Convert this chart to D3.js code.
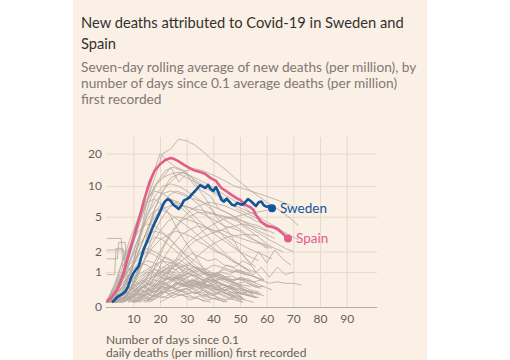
<!DOCTYPE html>
<html><head><meta charset="utf-8">
<script src="https://cdn.jsdelivr.net/npm/d3@7"></script>
<style>
body{margin:0;background:#fff}
svg{display:block}
text{font-family:Lato,"Open Sans",sans-serif}
</style>
</head><body>
<svg id="c" width="510" height="360"></svg>
<script>
// ---- data ----
const titleLines = ["New deaths attributed to Covid-19 in Sweden and", "Spain"];
const subtitleLines = ["Seven-day rolling average of new deaths (per million), by",
  "number of days since 0.1 average deaths (per million)", "first recorded"];
const xLabelLines = ["Number of days since 0.1", "daily deaths (per million) first recorded"];
const xTicks = [10, 20, 30, 40, 50, 60, 70, 80, 90];
const yTicks = [0, 1, 2, 5, 10, 20];

// [day, deaths per million]
const sweden = [[2,0.1],[3,0.15],[4,0.22],[5,0.26],[6,0.3],[7,0.36],[8,0.5],[9,0.75],[10,0.95],[11,1.1],
  [12,1.25],[13,1.7],[14,2.2],[15,2.6],[16,3.1],[17,3.7],[18,4.3],[19,4.9],[20,5.6],[21,6.5],[22,7.2],
  [23,7.5],[24,7.2],[25,6.6],[26,6.3],[27,6.0],[28,6.5],[29,7.3],[30,7.5],[31,7.8],[32,8.4],[33,8.9],
  [34,9.5],[35,10.2],[36,9.9],[37,9.6],[38,10.3],[39,9.4],[40,9.0],[41,9.8],[42,8.6],[43,7.4],[44,7.1],
  [45,7.6],[46,7.1],[47,6.6],[48,6.5],[49,6.9],[50,6.7],[51,6.6],[52,7.0],[53,7.5],[54,7.2],[55,6.8],
  [56,6.4],[57,7.0],[58,7.1],[59,6.5],[60,6.3],[61,6.4],[62,6.1]];
const spain = [[0,0.11],[2,0.22],[4,0.42],[6,0.85],[8,1.7],[10,2.9],[12,4.6],[14,7.3],[16,10.8],[18,14],
  [20,16],[22,17.5],[24,18.2],[25,18.0],[27,17.0],[29,15.8],[31,14.8],[33,14.0],[35,13.6],[37,13.0],
  [39,11.9],[41,11.2],[43,9.6],[45,8.9],[47,8.2],[49,7.6],[50,7.4],[52,6.6],[54,6.2],[55,5.9],[56,5.2],
  [58,4.4],[60,4.0],[62,3.9],[64,3.7],[66,3.3],[68,2.9]];

// other countries: [first day, values every 3 days]
const others = [
  [0,[0.1,0.3,0.8,2,4,7,12,20,22,27,26,24,21,18,16,14,12,10.5,9,8,7,6.3,5.5,4.8,4.0]],
  [0,[0.15,0.5,1.2,2.5,4.5,7,10,12,13,13.5,13,12,11,10,9,8,7.2,6.5,5.5,5,4.4,4,3.5,3.1,2.8]],
  [0,[0.1,0.2,0.5,1,2,3.5,6,9,11,13,14,14.5,14,13,12,11,10,9.5,9,8.5,8,7.5,7,6.5]],
  [0,[0.1,0.3,0.8,2,4,7,10,12,15,11,13,10,9,8,6,5.5,5,4,3.5,3,2.5,2.2,2]],
  [0,[0.1,0.4,1,2.5,5,7.5,9,8.5,7.5,6.5,5.5,4.5,3.5,2.8,2.3,1.8,1.5,1.2,1]],
  [5,[0.1,0.3,0.8,2,4,6,8,9,8.5,7.5,6.5,5,4,3,2.5,2,1.5,1.2]],
  [0,[0.1,0.2,0.5,1,2,3.5,5,6,6.5,6.5,6.3,6,5.8,5.5,5.2,5,4.8,4.5,4.2,4,3.6,3.3]],
  [0,[0.1,0.5,1.5,3,5,7,7.5,6.5,5,3.5,2.5,1.8,1.2,0.8,0.5,0.3,0.2,0.15]],
  [3,[0.1,0.3,1,2.5,5,8,10,10.5,10,9,8,7,6,5,4.5,4,3.5,3,2.6,2.2]],
  [8,[0.5,2,5,12,20,17,15,14,12,9,7,5,4,3,2,1.5,1,0.7]],
  [4,[0.1,0.5,1.5,3.5,7,11,14,15,14,12.5,11,10,9,8,7,6,5.5,5,4.5,4,3.6,3.2]],
  [6,[0.1,0.4,1.2,3,6,9,12,13,12,11,10,9,8,7.2,6.5,6,5.5,5]],
  [5,[0.1,0.3,0.7,1.5,3,4.5,6,7,6.5,6,5.5,5,4.5,4,3.8,3.5,3,2.7,2.5,2.2]],
  [10,[0.1,0.3,0.7,1.5,2.5,3.5,4.5,5,5.5,5.5,5.3,5,4.8,4.5,4,3.6,3.2,2.8,2.5,2.2,2]],
  [15,[0.1,0.2,0.4,0.6,0.9,1.2,1.6,2,2.4,2.7,3,3.1,3.2,3.2,3.1]],
  [12,[0.1,0.3,0.5,0.8,1.2,1.8,2.5,3,3.5,4,4.5,4.8,5,5.2,5.5,5.6,5.8]],
  [5,[0.1,0.3,0.8,1.5,2.5,3.5,4.5,5,4.8,4.5,4.2,3.8,3.5,3.2,2.8,2.5,2.2,2.0,1.8,1.6]],
  [8,[0.1,0.3,0.6,1.2,2,3,4,5,6,6.5,7,6.8,6.5,6,5.5,5,4.5,4.2,4,3.7]],
  [0,[0.1,0.3,0.7,1.5,3,5,7,8.5,9,8.5,8,7.5,7,6.5,6,5.5,5,4.5,4,3.5,3.2,2.9]],
  [10,[0.1,0.2,0.5,1.0,1.8,2.5,3.2,3.6,4,3.8,3.5,3.6,3.3,3.0,2.8,2.6,2.5,2.2]],
  [3,[0.1,0.4,1.0,2,3.5,5.5,7,7.5,7,6,5,4.2,3.5,3,2.6,2.2,1.9,1.7,1.5]],
  [15,[0.1,0.3,0.6,1.1,1.6,2.2,2.7,3.0,3.3,3.5,3.8,4.0,4.2,4.0,3.8,3.5]],
  [2,[0.1,0.5,1.3,2.5,4,5.5,6,5.5,4.8,4.2,3.6,3.0,2.5,2.1,1.8,1.5,1.3,1.1,1.0]],
  [0,[0.1,0.15,0.3,0.5,0.6,0.9,1.1,1.0,1.3,1.2,0.9,1.0,0.8,0.7,0.6,0.5,0.45,0.3,0.25,0.2]],
  [0,[0.1,0.2,0.2,0.4,0.35,0.6,0.5,0.8,0.7,0.9,0.6,0.7,0.5,0.55,0.4,0.3,0.35,0.2]],
  [1,[0.1,0.1,0.25,0.2,0.4,0.3,0.5,0.6,0.45,0.7,0.5,0.4,0.6,0.35,0.3,0.2,0.25,0.15,0.1]],
  [0,[0.12,0.3,0.6,0.9,1.2,1.5,1.4,1.1,0.9,0.7,0.5,0.4,0.3,0.2,0.15,0.1]],
  [2,[0.1,0.2,0.35,0.5,0.7,0.8,1.0,1.2,1.1,1.3,1.0,1.15,0.9,0.95,0.8,0.7,0.75,0.6,0.5,0.5,0.4]],
  [0,[0.1,0.1,0.15,0.2,0.2,0.3,0.25,0.35,0.3,0.4,0.3,0.35,0.25,0.3,0.2,0.15,0.2,0.1]],
  [0,[0.1,0.4,0.8,1.2,1.6,2.0,1.8,1.5,1.2,1.0,0.7,0.5,0.4,0.3,0.2,0.12]],
  [3,[0.1,0.2,0.3,0.5,0.8,0.7,1.0,0.9,1.2,0.8,0.9,0.7,0.8,0.6,0.5,0.6,0.4,0.35,0.3]],
  [0,[0.1,0.15,0.1,0.2,0.3,0.2,0.4,0.3,0.5,0.35,0.45,0.3,0.4,0.25,0.3,0.2,0.15,0.1]],
  [0,[0.1,0.3,0.5,0.7,0.6,0.9,0.8,1.0,0.7,0.8,0.6,0.5,0.55,0.4,0.3]],
  [4,[0.1,0.2,0.3,0.45,0.6,0.55,0.8,0.7,0.9,1.1,0.9,1.0,0.8,0.9,0.7,0.6,0.65,0.5,0.45]],
  [0,[0.1,0.2,0.4,0.3,0.5,0.45,0.3,0.5,0.35,0.25,0.3,0.2,0.15,0.1]],
  [0,[0.1,0.5,1.0,1.4,1.8,2.2,2.0,1.7,1.5,1.2,1.0,0.8,0.6,0.5,0.4,0.3,0.25]],
  [2,[0.1,0.15,0.2,0.3,0.25,0.4,0.5,0.45,0.6,0.55,0.7,0.6,0.65,0.5,0.55,0.45,0.4,0.35,0.3,0.25]],
  [0,[0.1,0.2,0.15,0.25,0.4,0.35,0.5,0.6,0.5,0.4,0.45,0.3,0.35,0.2]],
  [5,[0.1,0.15,0.25,0.35,0.5,0.65,0.6,0.8,0.75,0.9,0.85,1.0,0.95,1.1,1.0,1.05,0.9,0.8,0.7]],
  [0,[0.1,0.3,0.6,1.0,1.4,1.3,1.1,0.9,1.0,0.8,0.7,0.6,0.5,0.4,0.4,0.3,0.25,0.2]],
  [1,[0.1,0.1,0.2,0.15,0.3,0.2,0.25,0.35,0.2,0.3,0.15,0.2,0.1]],
  [0,[0.1,0.25,0.45,0.7,0.9,1.1,1.3,1.5,1.4,1.6,1.3,1.2,1.0,0.9,0.8,0.7,0.6,0.5,0.4,0.35]],
  [3,[0.1,0.3,0.5,0.8,1.0,0.9,1.2,1.4,1.3,1.1,1.2,1.0,0.9,0.95,0.8,0.7,0.8,0.6,0.5]],
  [0,[0.1,0.12,0.2,0.3,0.45,0.5,0.7,0.65,0.8,0.75,0.6,0.7,0.55,0.5,0.45,0.4,0.3,0.35,0.25,0.2]],
  [0,[0.1,0.2,0.35,0.3,0.5,0.7,0.6,0.9,0.8,0.6,0.5,0.6,0.4,0.3]],
  [6,[0.1,0.2,0.3,0.4,0.35,0.5,0.45,0.6,0.55,0.5,0.6,0.45,0.4,0.5,0.35,0.3,0.25]],
  [0,[0.1,0.3,0.7,1.2,1.8,2.5,3.0,2.8,2.3,1.9,1.5,1.2,1.0,0.8,0.6,0.5,0.4]],
  [0,[0.1,0.4,0.9,1.6,2.4,3.2,3.5,3.3,2.8,2.2,1.8,1.5,1.2,1.0,0.8,0.7,0.6,0.5]],
  [2,[0.1,0.2,0.5,0.9,1.5,2.2,2.8,3.2,3.5,3.3,3.0,2.6,2.3,2.0,1.8,1.5,1.3,1.1]],
  [0,[0.1,0.6,1.5,2.5,3.5,4.2,4.0,3.4,2.8,2.2,1.7,1.3,1.0,0.7,0.5,0.35,0.25]],
  [10,[0.1,0.15,0.2,0.3,0.35,0.4,0.5,0.55,0.6,0.7,0.65,0.8,0.7,0.75,0.7,0.65,0.7,0.6,0.65,0.6,0.6,0.55]],
  [36,[0.6,0.8,1.0,1.3,1.2,1.5,1.3,2.0,1.4,2.1,1.6,1.3]],
  [40,[0.8,1.0,0.9,1.1,1.0,0.9,1.2,0.8,1.2,0.9,1.0]],
  [5,[0.1,0.2,0.3,0.5,0.4,0.6,0.8,0.7,0.9,0.6,0.8,0.5,0.6,0.4,0.5,0.3,0.35,0.2]],
  [8,[0.1,0.15,0.3,0.25,0.45,0.4,0.6,0.5,0.75,0.55,0.65,0.5,0.4,0.45,0.3,0.25,0.2]],
  [3,[0.1,0.3,0.45,0.4,0.6,0.5,0.35,0.5,0.4,0.3,0.35,0.25,0.2,0.15]],
  [6,[0.1,0.2,0.4,0.6,0.9,1.2,1.1,1.4,1.2,1.0,1.1,0.9,0.8,0.7,0.6,0.55,0.5]],
  [10,[0.1,0.2,0.3,0.4,0.55,0.5,0.7,0.6,0.8,0.65,0.7,0.6,0.5,0.55,0.4,0.3]],
  [12,[0.1,0.15,0.25,0.2,0.3,0.4,0.35,0.5,0.45,0.55,0.4,0.5,0.35,0.3,0.25]],
  [4,[0.1,0.25,0.5,0.8,1.1,0.9,0.7,0.9,0.6,0.5,0.6,0.4,0.3,0.35,0.25,0.2,0.15]],
  [7,[0.1,0.3,0.6,0.9,1.3,1.7,1.5,1.2,1.4,1.1,0.9,0.8,0.7,0.6,0.5,0.4,0.35,0.3]],
  [14,[0.1,0.2,0.35,0.5,0.45,0.6,0.7,0.65,0.8,0.9,0.8,0.85,0.7,0.75,0.6,0.5]],
  [2,[0.1,0.1,0.15,0.1,0.2,0.15,0.25,0.2,0.3,0.25,0.2,0.25,0.15,0.2,0.1]],
  [9,[0.1,0.25,0.4,0.35,0.55,0.7,0.6,0.5,0.65,0.45,0.5,0.35,0.4,0.3,0.2]],
  [20,[0.1,0.2,0.3,0.4,0.5,0.6,0.55,0.7,0.75,0.65,0.8,0.7,0.6]],
  [1,[0.1,0.2,0.3,0.45,0.7,0.6,0.9,1.1,1.0,0.85,0.95,0.8,0.7,0.75,0.6,0.5,0.45,0.4,0.3]],
  [11,[0.1,0.3,0.5,0.8,1.0,1.3,1.6,1.9,1.7,1.5,1.6,1.3,1.2,1.0,0.9,0.8,0.7]],
  [16,[0.1,0.2,0.35,0.55,0.8,1.0,1.2,1.1,1.3,1.2,1.1,1.0,0.9,0.85,0.7]]
];
// very small countries with stepped early values: [day, value] pairs
const stepped = [
  [[0,2.9],[5.5,2.9],[6,1.2],[9,0.6],[12,0.3]],
  [[0,2.1],[6.5,2.1],[7,0.8],[10,0.2]],
  [[0,1.6],[4,1.6],[4.5,2.6],[7,2.6],[7.5,0.9],[12,0.4]],
  [[0,0.9],[3,0.9],[3.5,2.2],[6,2.2],[6.5,1.5],[9,1.0]]
];

// ---- drawing ----
const svg = d3.select("#c");
svg.append("rect").attr("x",73).attr("y",0).attr("width",354).attr("height",360).attr("fill","#fbf0e5");

const x = d3.scaleLinear().domain([0,100]).range([106.7,373.3]);
const y = d3.scaleSymlog().constant(1).domain([0,28]).range([307,137.3]);

// titles
svg.append("g").selectAll("text").data(titleLines).join("text")
  .attr("x",81).attr("y",(d,i)=>28+i*21).attr("fill","#33302e").attr("font-size",14.7).text(d=>d);
svg.append("g").selectAll("text").data(subtitleLines).join("text")
  .attr("x",81).attr("y",(d,i)=>72+i*16).attr("fill","#807973").attr("font-size",13.7).text(d=>d);

// grid
const gx = svg.append("g").attr("transform","translate(0,307)")
  .call(d3.axisBottom(x).tickValues(xTicks).tickSize(-170).tickPadding(7));
gx.select(".domain").remove();
gx.selectAll(".tick line").attr("stroke","#e6d9cc");
gx.selectAll(".tick text").attr("fill","#66605c").attr("font-size",12).attr("font-family","Lato,sans-serif");

const gy = svg.append("g").attr("transform","translate(106,0)")
  .call(d3.axisLeft(y).tickValues(yTicks).tickFormat(d3.format("d")).tickSize(-271).tickPadding(4));
gy.select(".domain").remove();
gy.selectAll(".tick line").attr("stroke",d=>d===0?"#b8aea5":"#e6d9cc");
gy.selectAll(".tick text").attr("fill","#66605c").attr("font-size",12).attr("font-family","Lato,sans-serif");

// x label
svg.append("g").selectAll("text").data(xLabelLines).join("text")
  .attr("x",106).attr("y",(d,i)=>343.5+i*13.5).attr("fill","#66605c").attr("font-size",12).text(d=>d);

const line = d3.line().x(d=>x(d[0])).y(d=>y(d[1]));
const gOther = svg.append("g").attr("fill","none").attr("stroke","#b3a99f").attr("stroke-width",0.9).attr("stroke-opacity",0.9);
gOther.selectAll("path.o").data(others).join("path").attr("class","o")
  .attr("d",d=>line(d[1].map((v,i)=>[d[0]+i*3,v])));
gOther.selectAll("path.s").data(stepped).join("path").attr("class","s").attr("d",line);

const cSpain = "#e35d8b", cSweden = "#12559a";
svg.append("path").attr("d",line(spain)).attr("fill","none").attr("stroke",cSpain).attr("stroke-width",2.6).attr("stroke-linejoin","round");
svg.append("path").attr("d",line(sweden)).attr("fill","none").attr("stroke",cSweden).attr("stroke-width",2.6).attr("stroke-linejoin","round");

const ends = [{name:"Sweden",p:sweden[sweden.length-1],c:cSweden},{name:"Spain",p:spain[spain.length-1],c:cSpain}];
ends.forEach(e=>{
  svg.append("circle").attr("cx",x(e.p[0])).attr("cy",y(e.p[1])).attr("r",4).attr("fill",e.c);
  svg.append("text").attr("x",x(e.p[0])+8).attr("y",y(e.p[1])).attr("dy","0.35em")
    .attr("fill",e.c).attr("font-size",13.5).text(e.name);
});
</script>
</body></html>
